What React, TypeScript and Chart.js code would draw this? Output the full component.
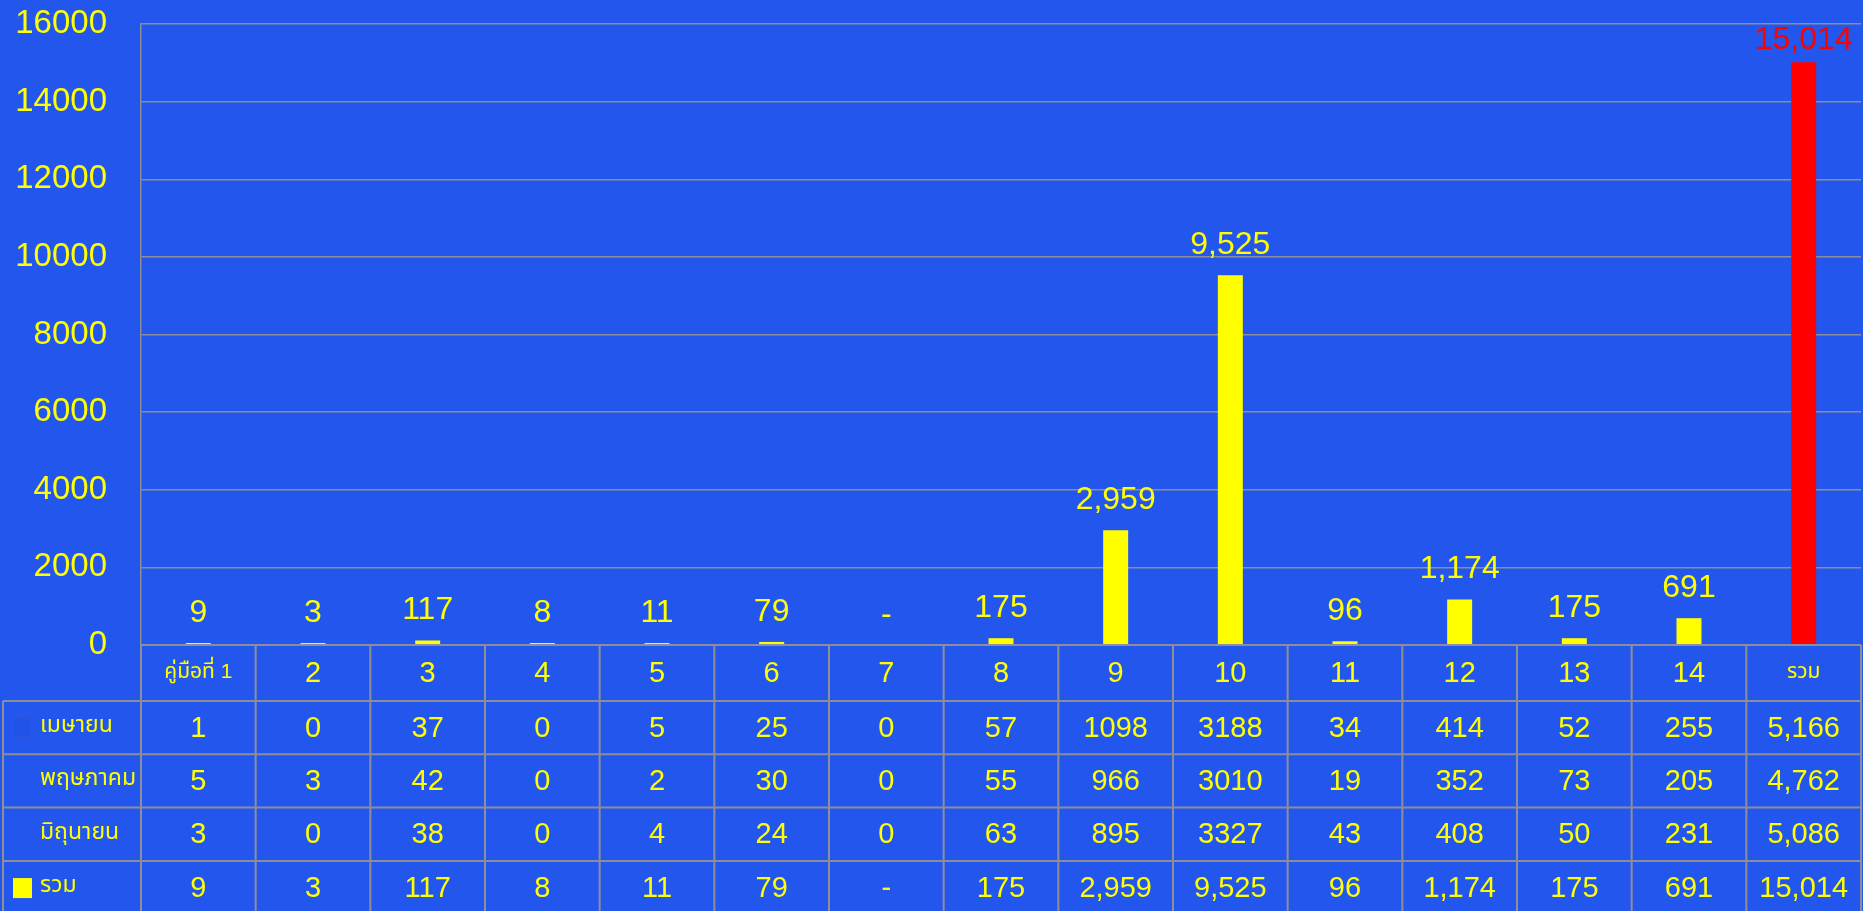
import React, { useEffect, useRef } from "react";
import { Chart, registerables } from "chart.js";

Chart.register(...registerables);

// ---------- data ----------
const categories = ["คู่มือที่ 1", "2", "3", "4", "5", "6", "7", "8", "9", "10", "11", "12", "13", "14", "รวม"];
const rowLabels = ["เมษายน", "พฤษภาคม", "มิถุนายน", "รวม"];
const april = [1, 0, 37, 0, 5, 25, 0, 57, 1098, 3188, 34, 414, 52, 255, 5166];
const may = [5, 3, 42, 0, 2, 30, 0, 55, 966, 3010, 19, 352, 73, 205, 4762];
const june = [3, 0, 38, 0, 4, 24, 0, 63, 895, 3327, 43, 408, 50, 231, 5086];
const totals = [9, 3, 117, 8, 11, 79, 0, 175, 2959, 9525, 96, 1174, 175, 691, 15014];
const yTicks = [0, 2000, 4000, 6000, 8000, 10000, 12000, 14000, 16000];

// ---------- style ----------
const BG = "#2356ed";
const GRID = "#8e8e98";
const YELLOW = "#ffff00";
const RED = "#ff0000";
const FONT = "'Liberation Sans', 'Noto Sans Thai', 'Noto Sans', sans-serif";

const fmt = (v: number) => v.toLocaleString("en-US");
const totalLabel = (v: number) => (v === 0 ? "-" : fmt(v));

const bgPlugin = {
  id: "bg",
  beforeDraw(chart: any) {
    const { ctx, width, height } = chart;
    ctx.save();
    ctx.fillStyle = BG;
    ctx.fillRect(0, 0, width, height);
    ctx.restore();
  },
};

const labelPlugin = {
  id: "barLabels",
  afterDatasetsDraw(chart: any) {
    const { ctx } = chart;
    const meta = chart.getDatasetMeta(0);
    const y0 = chart.scales.y.getPixelForValue(0);
    ctx.save();
    ctx.font = `32px ${FONT}`;
    ctx.textAlign = "center";
    ctx.textBaseline = "alphabetic";
    meta.data.forEach((el: any, i: number) => {
      const v = totals[i];
      const top = v === 0 ? y0 : el.y;
      const base = Math.max(top - 21, 49);
      ctx.fillStyle = i === totals.length - 1 ? RED : YELLOW;
      ctx.fillText(totalLabel(v), el.x, base);
    });
    ctx.restore();
  },
};

const tablePlugin = {
  id: "dataTable",
  afterDraw(chart: any) {
    const { ctx, chartArea } = chart;
    const n = categories.length;
    const left = chartArea.left;
    const right = chartArea.right;
    const w = (right - left) / n;
    const top = chartArea.bottom;
    const headerH = 56;
    const rowH = 53.3;
    const tableLeft = 3;
    const bottom = top + headerH + rowH * rowLabels.length;
    const xs = chart.scales.x;

    ctx.save();
    ctx.strokeStyle = GRID;
    ctx.lineWidth = 2;
    for (let k = 0; k <= n; k++) {
      const x = left + k * w;
      ctx.beginPath();
      ctx.moveTo(x, top);
      ctx.lineTo(x, bottom);
      ctx.stroke();
    }
    ctx.beginPath();
    ctx.moveTo(tableLeft, top + headerH);
    ctx.lineTo(tableLeft, bottom);
    ctx.stroke();
    ctx.beginPath();
    ctx.moveTo(left, top);
    ctx.lineTo(right, top);
    ctx.stroke();
    for (let r = 0; r <= rowLabels.length; r++) {
      const y = top + headerH + r * rowH;
      ctx.beginPath();
      ctx.moveTo(tableLeft, y);
      ctx.lineTo(right, y);
      ctx.stroke();
    }

    // header
    ctx.fillStyle = YELLOW;
    ctx.textAlign = "center";
    ctx.textBaseline = "middle";
    categories.forEach((c, i) => {
      const numeric = /^\d+$/.test(c);
      ctx.font = numeric ? `29px ${FONT}` : `21px ${FONT}`;
      ctx.fillText(c, xs.getPixelForValue(i), top + headerH / 2 + (numeric ? 1 : -1));
    });

    // rows
    const rows = [april, may, june, totals];
    rows.forEach((vals, r) => {
      const cy = top + headerH + r * rowH + rowH / 2;
      ctx.font = `29px ${FONT}`;
      ctx.textAlign = "center";
      vals.forEach((v, i) => {
        const last = i === vals.length - 1;
        const txt = r === rows.length - 1 ? totalLabel(v) : last ? fmt(v) : String(v);
        ctx.fillText(txt, xs.getPixelForValue(i), cy + 1);
      });
      ctx.textAlign = "left";
      ctx.font = `23px ${FONT}`;
      ctx.fillText(rowLabels[r], 40, cy - 2);
    });

    // legend keys
    const k1y = top + headerH + rowH / 2 - 9.5;
    ctx.fillStyle = "#2253e8";
    ctx.fillRect(13, k1y, 19, 19);
    ctx.strokeStyle = "#2a55dc";
    ctx.lineWidth = 1;
    ctx.strokeRect(13.5, k1y + 0.5, 18, 18);
    const k4y = top + headerH + 3 * rowH + rowH / 2 - 9.5;
    ctx.fillStyle = YELLOW;
    ctx.fillRect(13, k4y, 19, 20);
    ctx.restore();
  },
};

export default function App() {
  const ref = useRef<HTMLCanvasElement | null>(null);

  useEffect(() => {
    document.body.style.margin = "0";
    document.body.style.background = BG;
    document.body.style.overflow = "hidden";
    if (!ref.current) return;
    const chart = new Chart(ref.current, {
      type: "bar",
      data: {
        labels: categories,
        datasets: [
          {
            label: "รวม",
            data: totals.map((v) => (v === 0 ? null : v)),
            backgroundColor: totals.map((_, i) => (i === totals.length - 1 ? RED : YELLOW)),
            borderWidth: 0,
            categoryPercentage: 1,
            barPercentage: 0.218,
            minBarLength: 2,
          },
        ],
      },
      options: {
        responsive: false,
        animation: false,
        maintainAspectRatio: false,
        layout: { padding: { left: 0, right: 2, top: 24, bottom: 266 } },
        plugins: {
          legend: { display: false },
          tooltip: { enabled: false },
          title: { display: false },
        },
        scales: {
          x: {
            display: false,
          },
          y: {
            min: 0,
            max: 16000,
            afterBuildTicks: (scale: any) => {
              scale.ticks = yTicks.map((v) => ({ value: v }));
            },
            afterFit: (scale: any) => {
              scale.width = 141;
              scale.paddingTop = 0;
              scale.paddingBottom = 0;
            },
            ticks: {
              color: YELLOW,
              font: { size: 33, family: FONT },
              padding: 34,
              callback: (v: any) => String(v),
            },
            grid: { color: GRID, lineWidth: 1.5, drawTicks: false },
            border: { color: GRID, width: 1.5 },
          },
        },
      },
      plugins: [bgPlugin, labelPlugin, tablePlugin],
    });
    return () => chart.destroy();
  }, []);

  return (
    <div style={{ width: 1863, height: 911 }}>
      <canvas ref={ref} width={1863} height={911} style={{ display: "block" }} />
    </div>
  );
}
